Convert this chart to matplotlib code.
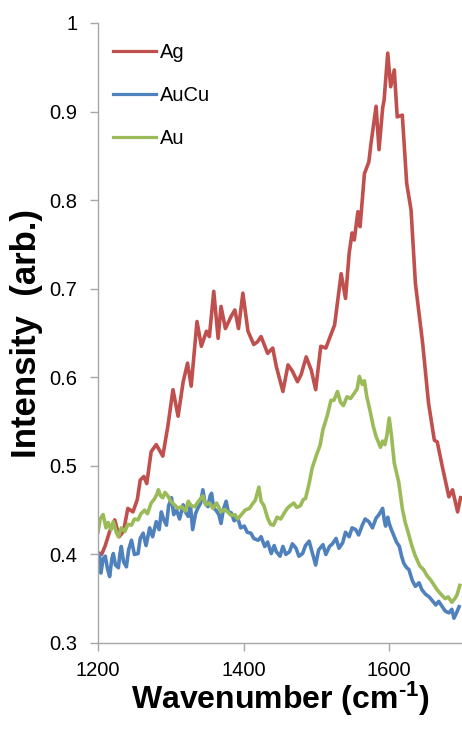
import matplotlib
matplotlib.use("Agg")
import matplotlib.pyplot as plt
import numpy as np

plt.rcParams['font.family'] = ['Liberation Sans', 'DejaVu Sans']
plt.rcParams['mathtext.fontset'] = 'custom'
plt.rcParams['mathtext.rm'] = 'Liberation Sans:bold'
plt.rcParams['mathtext.bf'] = 'Liberation Sans:bold'
plt.rcParams['mathtext.it'] = 'Liberation Sans:bold'

# ---------------- data ----------------
ag_x = [1200, 1205, 1210, 1216, 1223, 1229, 1235, 1241, 1248, 1254, 1258, 1263, 1267,
        1273, 1280, 1289, 1296, 1303, 1310, 1317, 1323, 1328, 1336, 1342, 1349, 1353,
        1359, 1365, 1369, 1375, 1383, 1388, 1393, 1399, 1406, 1414, 1419, 1424, 1433,
        1440, 1445, 1454, 1461, 1467, 1474, 1479, 1486, 1493, 1499, 1506, 1513, 1518,
        1525, 1534, 1540, 1545, 1549, 1552, 1557, 1560, 1566, 1572, 1575, 1582, 1586,
        1591, 1593, 1598, 1602, 1607, 1611, 1618, 1624, 1630, 1636, 1646, 1654, 1662,
        1666, 1673, 1682, 1687, 1694, 1698]
ag_y = [0.402, 0.400, 0.410, 0.426, 0.439, 0.420, 0.426, 0.452, 0.448, 0.462, 0.484, 0.488, 0.480,
        0.516, 0.524, 0.511, 0.545, 0.586, 0.556, 0.595, 0.616, 0.590, 0.663, 0.635, 0.652, 0.646,
        0.697, 0.644, 0.680, 0.655, 0.669, 0.676, 0.655, 0.695, 0.652, 0.637, 0.640, 0.646, 0.627,
        0.633, 0.612, 0.584, 0.614, 0.607, 0.595, 0.603, 0.623, 0.608, 0.586, 0.635, 0.633, 0.644,
        0.659, 0.717, 0.689, 0.740, 0.763, 0.755, 0.787, 0.770, 0.830, 0.843, 0.864, 0.906, 0.857,
        0.904, 0.913, 0.966, 0.928, 0.947, 0.894, 0.896, 0.819, 0.789, 0.706, 0.638, 0.571, 0.529,
        0.527, 0.499, 0.465, 0.473, 0.448, 0.464]

aucu_x = [1200, 1202, 1204, 1207, 1210, 1213, 1216, 1219, 1221, 1224, 1228, 1230, 1232, 1235,
          1239, 1242, 1246, 1250, 1255, 1258, 1262, 1266, 1271, 1275, 1280, 1284, 1287, 1290,
          1294, 1297, 1301, 1304, 1308, 1312, 1317, 1320, 1324, 1327, 1330, 1334, 1337, 1341,
          1344, 1347, 1351, 1354, 1356, 1359, 1362, 1366, 1369, 1372, 1376, 1379, 1383, 1387,
          1392, 1396, 1401, 1405, 1410, 1414, 1420, 1424, 1429, 1433, 1438, 1442, 1445, 1450,
          1454, 1458, 1463, 1467, 1472, 1476, 1481, 1485, 1490, 1494, 1499, 1503, 1509, 1513,
          1518, 1522, 1527, 1531, 1536, 1540, 1545, 1549, 1554, 1558, 1563, 1567, 1572, 1577,
          1582, 1586, 1591, 1593, 1595, 1598, 1600, 1603, 1607, 1610, 1614, 1617, 1620, 1624,
          1627, 1632, 1636, 1641, 1645, 1650, 1655, 1659, 1664, 1668, 1673, 1677, 1682, 1686,
          1689, 1693, 1696]
aucu_y = [0.390, 0.400, 0.379, 0.395, 0.398, 0.384, 0.375, 0.395, 0.401, 0.388, 0.385, 0.400, 0.409, 0.392,
          0.386, 0.405, 0.416, 0.400, 0.401, 0.418, 0.424, 0.410, 0.430, 0.420, 0.437, 0.428, 0.448, 0.440,
          0.433, 0.455, 0.464, 0.445, 0.450, 0.440, 0.456, 0.448, 0.443, 0.455, 0.428, 0.446, 0.452, 0.458,
          0.473, 0.458, 0.454, 0.466, 0.469, 0.452, 0.450, 0.445, 0.435, 0.450, 0.460, 0.448, 0.447, 0.438,
          0.441, 0.430, 0.432, 0.425, 0.424, 0.418, 0.416, 0.420, 0.409, 0.414, 0.401, 0.410, 0.403, 0.398,
          0.409, 0.400, 0.403, 0.412, 0.407, 0.398, 0.401, 0.410, 0.415, 0.403, 0.388, 0.405, 0.411, 0.400,
          0.409, 0.412, 0.418, 0.407, 0.413, 0.425, 0.420, 0.430, 0.428, 0.422, 0.433, 0.440, 0.437, 0.430,
          0.441, 0.445, 0.452, 0.440, 0.432, 0.442, 0.435, 0.428, 0.420, 0.414, 0.409, 0.398, 0.390, 0.385,
          0.383, 0.370, 0.364, 0.368, 0.360, 0.355, 0.352, 0.348, 0.343, 0.347, 0.341, 0.336, 0.334, 0.338,
          0.328, 0.335, 0.341]

au_x = [1200, 1203, 1207, 1211, 1214, 1218, 1221, 1225, 1228, 1232, 1237, 1241, 1246, 1250,
        1255, 1259, 1264, 1268, 1273, 1277, 1281, 1283, 1286, 1289, 1292, 1296, 1300, 1305,
        1310, 1315, 1320, 1324, 1328, 1333, 1338, 1344, 1348, 1353, 1358, 1363, 1369, 1374,
        1378, 1383, 1388, 1392, 1397, 1402, 1408, 1413, 1416, 1421, 1424, 1428, 1433, 1437,
        1441, 1446, 1451, 1456, 1460, 1464, 1469, 1473, 1478, 1482, 1485, 1490, 1494, 1500,
        1505, 1509, 1515, 1520, 1524, 1529, 1533, 1537, 1542, 1547, 1552, 1556, 1559, 1563,
        1566, 1569, 1574, 1578, 1582, 1588, 1591, 1594, 1597, 1600, 1603, 1607, 1613, 1618,
        1622, 1626, 1631, 1636, 1642, 1647, 1652, 1658, 1665, 1670, 1677, 1681, 1686, 1690,
        1693, 1697]
au_y = [0.425, 0.440, 0.445, 0.430, 0.436, 0.428, 0.437, 0.425, 0.420, 0.430, 0.426, 0.434, 0.433, 0.440,
        0.439, 0.446, 0.450, 0.446, 0.458, 0.462, 0.468, 0.473, 0.466, 0.464, 0.470, 0.466, 0.460, 0.456,
        0.452, 0.454, 0.449, 0.460, 0.455, 0.454, 0.460, 0.466, 0.456, 0.458, 0.452, 0.458, 0.448, 0.451,
        0.448, 0.444, 0.445, 0.440, 0.445, 0.450, 0.452, 0.458, 0.461, 0.476, 0.460, 0.455, 0.441, 0.434,
        0.433, 0.442, 0.440, 0.447, 0.452, 0.455, 0.458, 0.453, 0.455, 0.462, 0.463, 0.480, 0.497, 0.512,
        0.523, 0.541, 0.557, 0.574, 0.574, 0.584, 0.572, 0.568, 0.578, 0.576, 0.582, 0.587, 0.601, 0.592,
        0.596, 0.579, 0.561, 0.545, 0.533, 0.521, 0.528, 0.524, 0.535, 0.554, 0.535, 0.503, 0.482, 0.452,
        0.436, 0.425, 0.410, 0.398, 0.387, 0.383, 0.376, 0.370, 0.361, 0.356, 0.350, 0.352, 0.346, 0.350,
        0.354, 0.365]

series_names = ["Ag", "AuCu", "Au"]
x_ticks = [1200, 1400, 1600]
y_ticks = [0.3, 0.4, 0.5, 0.6, 0.7, 0.8, 0.9, 1.0]
y_tick_labels = ["0.3", "0.4", "0.5", "0.6", "0.7", "0.8", "0.9", "1"]

# ---------------- figure ----------------
W, H = 462, 738
fig = plt.figure(figsize=(W / 100, H / 100), dpi=100)
ax = fig.add_axes([98 / W, 1 - 643 / H, (462 - 98) / W, (643 - 23) / H])

colors = ["#C0504D", "#4F81BD", "#9BBB59"]
ax.plot(ag_x, ag_y, color=colors[0], lw=2.6, label=series_names[0], solid_joinstyle='round')
ax.plot(aucu_x, aucu_y, color=colors[1], lw=2.6, label=series_names[1], solid_joinstyle='round')
ax.plot(au_x, au_y, color=colors[2], lw=2.6, label=series_names[2], solid_joinstyle='round')

ax.set_xlim(1200, 1700)
ax.set_ylim(0.3, 1.0)
ax.set_xticks(x_ticks)
ax.set_xticklabels([str(t) for t in x_ticks])
ax.set_yticks(y_ticks)
ax.set_yticklabels(y_tick_labels)

spine_col = "#A6A6A6"
for s in ["top", "right"]:
    ax.spines[s].set_visible(False)
for s in ["left", "bottom"]:
    ax.spines[s].set_color(spine_col)
    ax.spines[s].set_linewidth(1.0)
ax.tick_params(axis='both', direction='out', color=spine_col, width=1.0, length=6,
               labelsize=14.5, labelcolor='#000000')
ax.tick_params(axis='x', pad=7)
ax.tick_params(axis='y', pad=9)

ax.set_xlabel("Wavenumber (cm$^{\\text{-1}}$)", fontsize=23, fontweight='bold')
ax.set_ylabel("Intensity  (arb.)", fontsize=25, fontweight='bold')
ax.xaxis.set_label_coords(0.5, (643 - 699) / 620)
ax.xaxis.label.set_va('center')
ax.yaxis.set_label_coords((27 - 98) / 364, 0.5)
ax.yaxis.label.set_va('center')

leg = ax.legend(loc='upper left', bbox_to_anchor=(113 / W, 1 - 43 / H),
                bbox_transform=fig.transFigure, frameon=False, fontsize=14.5,
                handlelength=2.15, handletextpad=0.2, labelspacing=1.2,
                borderaxespad=0, borderpad=0)
for line in leg.get_lines():
    line.set_linewidth(2.3)

try:
    fig.canvas.draw()
except Exception:
    ax.set_xlabel("Wavenumber (cm\u207b\u00b9)", fontsize=23, fontweight='bold')

fig.savefig("out.png", dpi=100)
